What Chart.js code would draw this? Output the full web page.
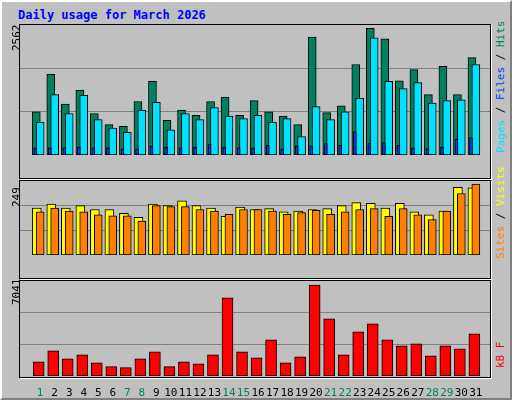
<!DOCTYPE html>
<html><head><meta charset="utf-8">
<script src="https://cdn.jsdelivr.net/npm/chart.js@4"></script>
<style>
body{margin:0;width:512px;height:400px;overflow:hidden;background:#fff}
#frame{position:absolute;left:0;top:0;width:508px;height:396px;background:#C0C0C0;border-top:2px solid #fff;border-left:2px solid #fff;border-right:2px solid #808080;border-bottom:2px solid #808080}
.t{position:absolute;font-family:"DejaVu Sans Mono",monospace;font-size:12px;white-space:nowrap}
.p{position:absolute;left:19px;width:470px;border:1px solid #000;box-shadow:1px 1px 0 #fff}
canvas{position:absolute;left:20px;display:block}
.rot{position:absolute;transform-origin:0 0;transform:rotate(-90deg);font-family:"DejaVu Sans Mono",monospace;font-size:11px;white-space:nowrap}
</style></head><body>
<div id="frame"></div>
<div class="t" style="left:18px;top:8px;color:#0000FF;font-weight:bold">Daily usage for March 2026</div>
<div class="p" style="top:24px;height:153px"></div>
<div class="p" style="top:180px;height:97px"></div>
<div class="p" style="top:280px;height:96px"></div>
<canvas id="c1" width="470" height="152" style="top:25px;width:470px;height:152px"></canvas>
<canvas id="c2" width="470" height="96" style="top:181px;width:470px;height:96px"></canvas>
<canvas id="c3" width="470" height="117" style="top:281px;width:470px;height:117px"></canvas>
<div class="rot" style="left:10px;top:51px">2562</div>
<div class="rot" style="left:10px;top:207px">249</div>
<div class="rot" style="left:10px;top:305px">7041</div>
<div class="rot" style="left:494px;top:153px"><span style="color:#00E0FF">Pages</span> / <span style="color:#0040FF">Files</span> / <span style="color:#00805F">Hits</span></div>
<div class="rot" style="left:494px;top:259px"><span style="color:#FF8000">Sites</span> / <span style="color:#FFFF00">Visits</span></div>
<div class="rot" style="left:494px;top:368px;color:#FF0000">kB F</div>
<script>
const days=[1,2,3,4,5,6,7,8,9,10,11,12,13,14,15,16,17,18,19,20,21,22,23,24,25,26,27,28,29,30,31];
const weekend=[1,7,8,14,15,21,22,28,29];
const hits=[852,1597,1004,1281,818,598,564,1055,1450,683,886,784,1055,1140,784,1072,852,767,598,2325,835,971,1783,2494,2291,1462,1682,1191,1749,1191,1919];
const files=[649,1191,818,1174,700,530,446,886,1038,497,818,700,937,767,717,784,649,717,361,954,700,852,1123,2308,1450,1309,1428,1021,1072,1089,1783];
const pages=[141,141,141,158,141,141,124,124,175,158,141,158,209,158,141,141,192,124,175,175,226,192,463,226,243,192,141,124,158,310,344];
const sites=[158,171,158,166,153,153,140,127,171,166,182,166,158,130,161,153,156,145,148,153,156,166,176,174,158,174,145,135,148,228,226];
const visits=[145,158,148,145,135,132,132,114,166,163,163,153,148,137,153,153,148,137,143,150,137,145,153,156,130,156,135,119,148,207,239];
const kbytes=[1059,1871,1280,1576,985,689,616,1280,1797,689,1059,911,1576,5786,1797,1354,2684,985,1428,6746,4235,1576,3274,3865,2684,2240,2388,1502,2240,2019,3127];
const maxes=[2562,249,7041];
Chart.defaults.animation=false;
function pts(arr,off){return arr.map((v,i)=>({x:days[i]+off,y:v}));}
function ds(arr,off,color,w){return{data:pts(arr,off),backgroundColor:color,borderColor:'#000',borderWidth:1,borderSkipped:false,barThickness:w,grouped:false};}
function mk(id,datasets,max,showX){
  new Chart(document.getElementById(id),{type:'bar',data:{datasets},
  options:{responsive:false,devicePixelRatio:1,layout:{padding:0},
   plugins:{legend:{display:false},tooltip:{enabled:false}},
   scales:{
    x:{type:'linear',min:0.234,max:31.553,display:showX,grid:{display:false},border:{display:false},
       afterBuildTicks:s=>{s.ticks=days.map(d=>({value:d+0.1}));},
       afterFit:s=>{s.height=22;},
       ticks:{autoSkip:false,maxRotation:0,padding:3,font:{family:'DejaVu Sans Mono',size:11},
         callback:(v,i)=>String(days[i]),
         color:c=>weekend.includes(days[c.index])?'#00805F':'#000'}},
    y:{min:0,max:max,afterFit:s=>{s.width=0;},ticks:{display:false,stepSize:max/3},
       grid:{color:'#808080',drawTicks:false,lineWidth:c=>(c.tick.value>0&&c.tick.value<max-1)?1:0},border:{display:false}}
   }}});
}
mk('c1',[ds(pages,-0.233,'#0040FF',3),ds(files,0.1,'#00E0FF',8),ds(hits,-0.167,'#00805F',8)],maxes[0],false);
mk('c2',[ds(visits,0.1,'#FF8000',8),ds(sites,-0.133,'#FFFF00',9)],maxes[1],false);
mk('c3',[ds(kbytes,0,'#FF0000',11)],maxes[2],true);
</script>
</body></html>
